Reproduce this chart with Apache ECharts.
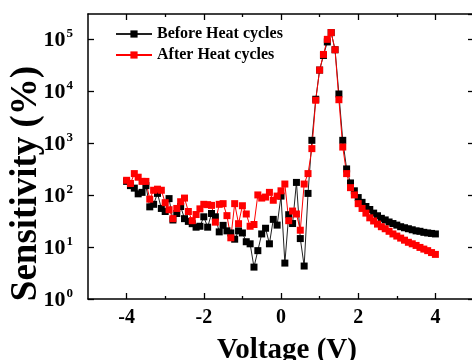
<!DOCTYPE html>
<html><head><meta charset="utf-8">
<script src="https://cdn.jsdelivr.net/npm/echarts@6/dist/echarts.min.js"></script>
<style>html,body{margin:0;padding:0;background:#fff}#c{width:472px;height:360px}</style>
</head><body><div id="c"></div>
<script>
const voltage = [-4.0,-3.9,-3.8,-3.7,-3.6,-3.5,-3.4,-3.3,-3.2,-3.1,-3.0,-2.9,-2.8,-2.7,-2.6,-2.5,-2.4,-2.3,-2.2,-2.1,-2.0,-1.9,-1.8,-1.7,-1.6,-1.5,-1.4,-1.3,-1.2,-1.1,-1.0,-0.9,-0.8,-0.7,-0.6,-0.5,-0.4,-0.3,-0.2,-0.1,0.0,0.1,0.2,0.3,0.4,0.5,0.6,0.7,0.8,0.9,1.0,1.1,1.2,1.3,1.4,1.5,1.6,1.7,1.8,1.9,2.0,2.1,2.2,2.3,2.4,2.5,2.6,2.7,2.8,2.9,3.0,3.1,3.2,3.3,3.4,3.5,3.6,3.7,3.8,3.9,4.0];
const beforeHeat = [182,151,135,105,112,151,59,66,107,55,48,85,33,44,60,35,31,28,24,25,38,24,44,38,19.5,26,20.4,18.6,14.1,20.4,18.6,12.6,11.5,4.1,8.5,17.8,22.9,11.5,33.9,26.3,95,4.9,41.7,28.2,174,14.5,4.3,107,1120,6900,25100,47900,87100,131800,61700,8710,1120,316,170,120,89,72,60,52.5,44.7,39.8,35.5,33.1,30.2,28.2,26.3,24.5,23.4,22.4,21.4,20.4,20.0,19.1,18.6,18.2,17.8];
const afterHeat = [191,166,257,219,182,182,83,123,129,123,71,52,35,55,74,87,48,32,42,54,66,65,63,30,66,68,40,15,68,28,62,43,25,27,100,87,91,112,79,95,120,162,32,49,43,21,162,257,776,6600,25100,50100,97700,131800,61700,6760,832,257,138,100,68,55,44.7,36.3,31.6,27.5,24.5,22.4,20.0,17.8,16.2,14.8,13.5,12.3,11.5,10.7,9.8,9.1,8.5,7.8,7.2];
const xMajorTicks = [-4,-2,0,2,4];
const xMinorTicks = [-3,-1,1,3];
const seriesNames = ['Before Heat cycles','After Heat cycles'];

const FONT = "'Liberation Serif','Times New Roman',serif";
const axisLine = {show:true, onZero:false, lineStyle:{color:'#000', width:1.5}};
function xAx(pos, ticks, len, withLabels, withLine){
  const a = {type:'value', position:pos, min:-5, max:5,
    axisLine: withLine ? axisLine : {show:false},
    axisTick:{show:true, inside:true, length:len, customValues:ticks, lineStyle:{color:'#000', width:1.3}},
    axisLabel:{show:withLabels, customValues:ticks, fontFamily:FONT, fontWeight:'bold', fontSize:20, color:'#000', margin:9},
    splitLine:{show:false}};
  return a;
}
const xAxes = [xAx('bottom', xMajorTicks, 6, true, true), xAx('bottom', xMinorTicks, 3, false, false),
               xAx('top', xMajorTicks, 6, false, true), xAx('top', xMinorTicks, 3, false, false)];
xAxes[0].name = 'Voltage (V)';
xAxes[0].nameLocation = 'middle';
xAxes[0].nameGap = 37;
xAxes[0].nameMoveOverlap = false;
xAxes[0].nameTextStyle = {fontFamily:FONT, fontWeight:'bold', fontSize:29, color:'#000', padding:[0,0,0,12]};

function yAx(pos, withLabels){
  return {type:'log', logBase:10, position:pos, min:1, max:300000, interval:1,
    axisLine: axisLine,
    axisTick:{show:true, inside:true, length:6, lineStyle:{color:'#000', width:1.3}},
    axisLabel:{show:withLabels, showMaxLabel:false, margin:15,
      formatter: function(v){ const e = Math.round(Math.log10(v)); if (Math.abs(Math.pow(10,e)-v) > 1e-6*v) return ''; return '{b|10}{s|' + e + '}'; },
      rich:{ b:{fontFamily:FONT, fontWeight:'bold', fontSize:22, color:'#000', verticalAlign:'bottom'},
             s:{fontFamily:FONT, fontWeight:'bold', fontSize:13, color:'#000', verticalAlign:'bottom', padding:[0,0,11,1]} }},
    splitLine:{show:false}};
}
const yAxes = [yAx('left', true), yAx('right', false)];
yAxes[0].name = 'Sensitivity (%)';
yAxes[0].nameLocation = 'middle';
yAxes[0].nameGap = 43;
yAxes[0].nameMoveOverlap = false;
yAxes[0].nameTextStyle = {fontFamily:FONT, fontWeight:'bold', fontSize:37, color:'#000', padding:[0,54,0,0]};

const chart = echarts.init(document.getElementById('c'), null, {renderer:'canvas'});
chart.setOption({
  animation:false,
  backgroundColor:'#fff',
  grid:{left:88, top:14, right:-2, bottom:61, containLabel:false, outerBoundsMode:'none'},
  legend:{left:110, top:21, orient:'vertical', itemWidth:36, itemHeight:9, itemGap:5,
    textStyle:{fontFamily:FONT, fontWeight:'bold', fontSize:16, color:'#000'},
    data: seriesNames},
  xAxis: xAxes,
  yAxis: yAxes,
  series:[
    {name:seriesNames[0], type:'line', xAxisIndex:0, yAxisIndex:0, data: voltage.map((v,i)=>[v, beforeHeat[i]]),
     symbol:'rect', symbolSize:7, itemStyle:{color:'#000'}, lineStyle:{color:'#222', width:1}},
    {name:seriesNames[1], type:'line', xAxisIndex:0, yAxisIndex:0, data: voltage.map((v,i)=>[v, afterHeat[i]]),
     symbol:'rect', symbolSize:7, itemStyle:{color:'#ff0000'}, lineStyle:{color:'#ff0000', width:1}}
  ]
});
</script>
</body></html>
